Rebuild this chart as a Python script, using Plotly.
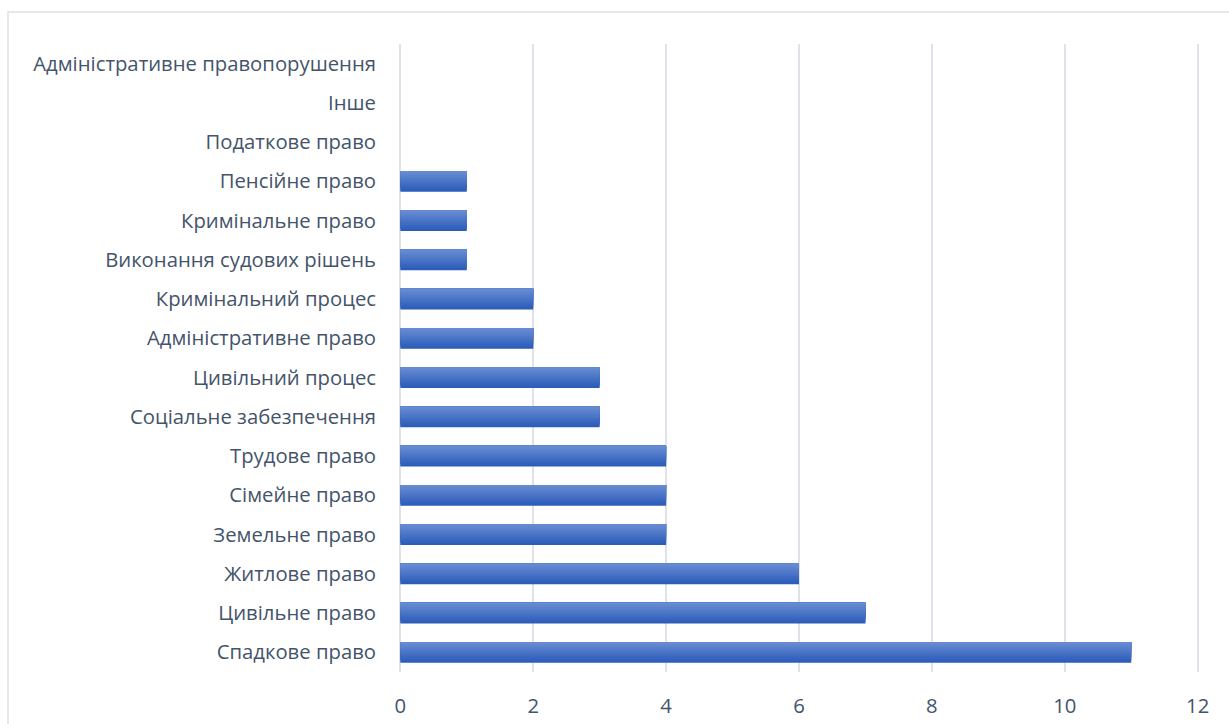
import plotly.graph_objects as go

categories = [
    "Спадкове право", "Цивільне право", "Житлове право", "Земельне право",
    "Сімейне право", "Трудове право", "Соціальне забезпечення", "Цивільний процес",
    "Адміністративне право", "Кримінальний процес", "Виконання судових рішень",
    "Кримінальне право", "Пенсійне право", "Податкове право", "Інше",
    "Адміністративне правопорушення",
]
values = [11, 7, 6, 4, 4, 4, 3, 3, 2, 2, 1, 1, 1, 0, 0, 0]
x_ticks = [0, 2, 4, 6, 8, 10, 12]

W = 0.53
TOP = W / 2
N = 10
c_bot = (0x2c, 0x5d, 0xb9)
c_top = (0x66, 0x8b, 0xd2)

fig = go.Figure()
for k in range(N):
    t = k / (N - 1)
    col = tuple(round(c_bot[i] + (c_top[i] - c_bot[i]) * t) for i in range(3))
    w = W * (N - k) / N
    fig.add_trace(go.Bar(
        x=values, y=categories, orientation="h",
        width=w, offset=TOP - w,
        marker=dict(color="rgb(%d,%d,%d)" % col, line=dict(width=0)),
        hoverinfo="x+y", showlegend=False,
    ))

font_col = "#44546a"
fig.update_layout(
    barmode="overlay",
    width=1229, height=724,
    margin=dict(l=399, r=30, t=44, b=52),
    paper_bgcolor="white", plot_bgcolor="white",
    font=dict(family="Open Sans, sans-serif", size=20.3, color=font_col),
    xaxis=dict(
        range=[-0.02, 12.02], tickvals=x_ticks, ticktext=[str(v) for v in x_ticks],
        showgrid=True, gridcolor="#dfe3e9", gridwidth=1.5,
        zeroline=False, showline=False, ticks="", ticklabelstandoff=20,
        fixedrange=True, automargin=False,
    ),
    yaxis=dict(
        categoryorder="array", categoryarray=categories,
        showgrid=False, zeroline=False, showline=False, ticks="",
        ticklabelstandoff=22, fixedrange=True, automargin=False,
    ),
    shapes=[dict(
        type="rect", xref="paper", yref="paper",
        x0=(8 - 399) / 800, x1=1.1, y0=-0.2, y1=(672 - 12) / 628,
        line=dict(color="#dde1e7", width=1.5), layer="below",
    )],
)

fig.write_html("out.html")
